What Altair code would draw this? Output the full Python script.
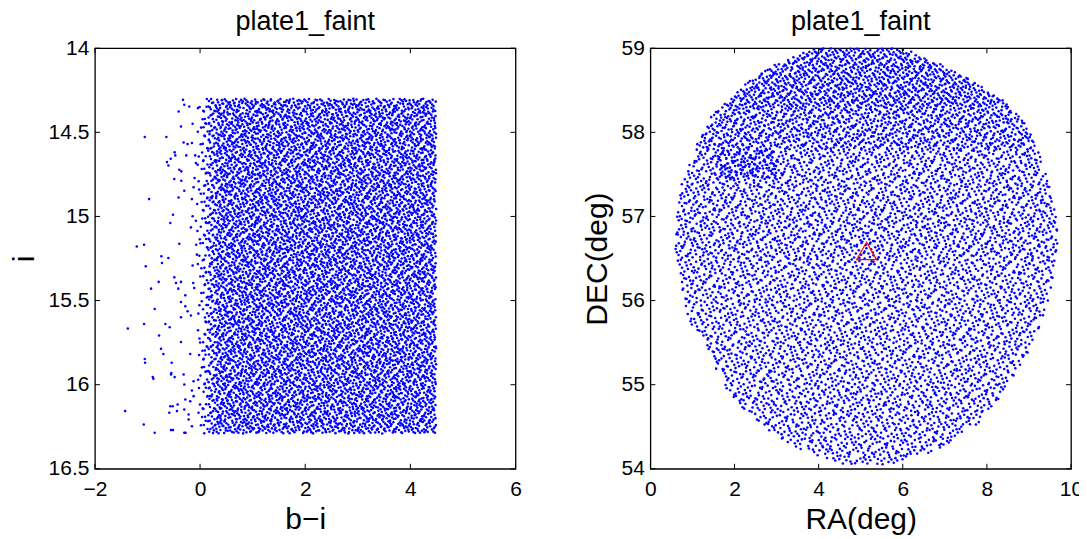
import numpy as np
import pandas as pd
import altair as alt

FONT = "Liberation Sans"
BLUE = "#0000ff"
W, H = 421, 421

# ---------------- left panel (colour-magnitude) ----------------
left_title = ["plate1_faint"]
left_xlabel = "b\u2212i"
left_ylabel = "i"
left_xticks = [-2, 0, 2, 4, 6]
left_yticks = [14, 14.5, 15, 15.5, 16, 16.5]

# isolated stars left of the main block
sparse_bi = [-0.325, -0.300, -0.205, -0.408, -0.041, -0.363, -0.142, -1.052, -0.641, -0.313,
             -0.237, -0.155, -0.483, -0.471, -0.559, -0.629, -0.603, -0.262, -0.092, -0.079,
             -0.395, -0.357, -0.490, -0.357, -0.104, -0.300, -0.123, -0.408, -0.970, -0.155,
             -0.054, -0.515, -0.566, -0.142, -0.079, -0.174, -1.065, -0.395, -0.073, -0.736,
             -0.603, -0.724, -1.033, -0.142, -0.060, -0.490, -0.787, -0.458, -0.363, -0.130,
             -0.932, -0.414, -0.111, -0.281, -0.863, -0.363, -0.281, -0.237, -0.174, -1.065,
             -0.660, -0.578, -0.363, -0.780, -0.363, -0.743, -0.698, -0.187, -1.052, -1.046,
             -0.540, -0.547, -0.553, -0.483, -0.313, -0.900, -0.888, -0.123, -0.300, -0.155,
             -0.566, -0.521, -0.427, -0.585, -0.439, -0.281, -0.187, -0.123, -0.300, -0.218,
             -0.553, -0.515, -0.300, -0.275, -0.218, -0.155, -1.071, -0.863, -1.425, -1.204,
             -1.374]
sparse_i = [14.307, 14.336, 14.346, 14.376, 14.356, 14.465, 14.449, 14.528, 14.528, 14.560,
            14.570, 14.564, 14.619, 14.637, 14.657, 14.677, 14.697, 14.637, 14.637, 14.683,
            14.722, 14.732, 14.778, 14.788, 14.772, 14.847, 14.827, 14.887, 14.897, 14.897,
            14.926, 14.990, 15.039, 14.999, 15.025, 15.065, 15.168, 15.162, 15.168, 15.237,
            15.247, 15.277, 15.296, 15.292, 15.227, 15.362, 15.389, 15.395, 15.389, 15.395,
            15.429, 15.429, 15.425, 15.469, 15.550, 15.508, 15.534, 15.564, 15.589, 15.639,
            15.639, 15.659, 15.599, 15.708, 15.746, 15.787, 15.817, 15.817, 15.847, 15.870,
            15.870, 15.930, 15.940, 15.955, 15.940, 15.955, 15.965, 15.979, 15.999, 16.035,
            16.128, 16.128, 16.118, 16.167, 16.157, 16.088, 16.098, 16.068, 16.148, 16.177,
            16.270, 16.270, 16.286, 16.286, 16.207, 16.247, 16.237, 16.286, 16.157, 15.178,
            15.666]

# main block: extents and relative density per colour band
block_bi_edges = [-0.05, 0.05, 0.15, 0.30, 4.49]
block_bi_density = [0.20, 0.45, 0.75, 1.00]
block_i_range = [14.30, 16.29]
block_count = 8500

# ---------------- right panel (sky positions) ----------------
right_title = ["plate1_faint"]
right_xlabel = "RA(deg)"
right_ylabel = "DEC(deg)"
right_xticks = [0, 2, 4, 6, 8, 10]
right_yticks = [54, 55, 56, 57, 58, 59]

# outline of the field: RA extent at each DEC row
ring_dec = [54.05, 54.2, 54.4, 54.6, 54.8, 55.0, 55.2, 55.4, 55.6, 55.8, 56.0, 56.2, 56.4,
            56.6, 56.8, 57.0, 57.2, 57.4, 57.6, 57.8, 58.0, 58.2, 58.4, 58.6, 58.8, 59.0]
ring_ra_min = [4.6, 3.7, 2.95, 2.45, 2.05, 1.75, 1.55, 1.4, 1.1, 0.9, 0.8, 0.72, 0.65,
               0.6, 0.58, 0.6, 0.65, 0.75, 0.9, 1.05, 1.25, 1.45, 1.9, 2.3, 2.95, 3.9]
ring_ra_max = [5.7, 6.7, 7.45, 7.95, 8.25, 8.5, 8.75, 9.0, 9.18, 9.33, 9.45, 9.55, 9.63,
               9.68, 9.68, 9.64, 9.58, 9.5, 9.35, 9.22, 9.05, 8.75, 8.35, 7.75, 6.95, 6.0]
# relative star density in DEC bands and in the small clump
dec_band_edges = [54.05, 55.0, 56.5, 57.8, 58.3, 59.0]
dec_band_density = [0.50, 0.50, 0.55, 0.75, 0.90]
clump_ra = [1.6, 3.0]
clump_dec = [57.45, 57.80]
clump_density = 1.0
field_count = 7800

marker_ra = [5.14]
marker_dec = [56.59]


# The thousands of individual dots cannot be read one by one; the cloud is drawn
# as an even, deterministic (Halton) fill of the extents and densities above.
def halton(n, base, start):
    idx = np.arange(start, start + n)
    r = np.zeros(n)
    f = 1.0
    while np.any(idx > 0):
        f /= base
        r += f * (idx % base)
        idx = idx // base
    return r


def fill_box(n, x0, x1, y0, y1, start):
    return (x0 + halton(n, 2, start) * (x1 - x0), y0 + halton(n, 3, start) * (y1 - y0))


# left block, band by band
edges = np.array(block_bi_edges)
wts = np.array(block_bi_density) * np.diff(edges)
counts = np.round(block_count * wts / wts.sum()).astype(int)
lx, ly = [np.array(sparse_bi)], [np.array(sparse_i)]
for k, n in enumerate(counts):
    px, py = fill_box(n, edges[k], edges[k + 1], block_i_range[0], block_i_range[1], 37 + 7919 * k)
    lx.append(px)
    ly.append(py)
left_df = pd.DataFrame({"x": np.concatenate(lx), "y": np.concatenate(ly)})

# right field, band by band inside the outline
RA0, RA1 = 0.4, 9.9
fine = np.linspace(ring_dec[0], ring_dec[-1], 1001)
fine_w = np.interp(fine, ring_dec, ring_ra_max) - np.interp(fine, ring_dec, ring_ra_min)
band_area = []
for k in range(len(dec_band_density)):
    m = (fine >= dec_band_edges[k]) & (fine <= dec_band_edges[k + 1])
    band_area.append(np.trapezoid(fine_w[m], fine[m]))
clump_area = (clump_ra[1] - clump_ra[0]) * (clump_dec[1] - clump_dec[0])
clump_base = dec_band_density[2]
total = np.dot(dec_band_density, band_area) + (clump_density - clump_base) * clump_area
c = field_count / total
rx, ry = [], []
for k, d in enumerate(dec_band_density):
    d0, d1 = dec_band_edges[k], dec_band_edges[k + 1]
    n = int(round(c * d * (RA1 - RA0) * (d1 - d0)))
    px, py = fill_box(n, RA0, RA1, d0, d1, 53 + 15013 * k)
    ok = (px >= np.interp(py, ring_dec, ring_ra_min)) & (px <= np.interp(py, ring_dec, ring_ra_max))
    rx.append(px[ok])
    ry.append(py[ok])
n = int(round(c * (clump_density - clump_base) * clump_area))
px, py = fill_box(n, clump_ra[0], clump_ra[1], clump_dec[0], clump_dec[1], 101)
rx.append(px)
ry.append(py)
right_df = pd.DataFrame({"x": np.concatenate(rx), "y": np.concatenate(ry)})
marker_df = pd.DataFrame({"x": marker_ra, "y": marker_dec})


def panel(df, title, xlabel, ylabel, xticks, yticks, xdom, ydom, yrev, extra=None):
    xs = alt.Scale(domain=xdom, nice=False, zero=False)
    ys = alt.Scale(domain=ydom, nice=False, zero=False, reverse=yrev)
    ax = dict(ticks=False, tickSize=0, domain=False, grid=False, labelFont=FONT, labelFontSize=21,
              labelColor="black", labelFlush=False, labelOverlap=False, format="~r",
              titleFont=FONT, titleFontSize=30, titleFontWeight="normal", titleColor="black")
    xaxis = alt.Axis(values=xticks, title=xlabel, labelPadding=10, titlePadding=4.5, **ax)
    yaxis = alt.Axis(values=yticks, title=ylabel, labelPadding=6, titlePadding=9, **ax)
    pts = alt.Chart(df).mark_circle(size=6.5, color=BLUE, opacity=1).encode(
        x=alt.X("x:Q", scale=xs, axis=xaxis),
        y=alt.Y("y:Q", scale=ys, axis=yaxis),
    )
    xt = pd.DataFrame({"x": xticks})
    yt = pd.DataFrame({"y": yticks})
    tl = 5
    tick_layers = [
        alt.Chart(xt).mark_rule(color="black", strokeWidth=1).encode(
            x=alt.X("x:Q", scale=xs, axis=xaxis), y=alt.value(H), y2=alt.value(H - tl)),
        alt.Chart(xt).mark_rule(color="black", strokeWidth=1).encode(
            x=alt.X("x:Q", scale=xs, axis=xaxis), y=alt.value(0), y2=alt.value(tl)),
        alt.Chart(yt).mark_rule(color="black", strokeWidth=1).encode(
            y=alt.Y("y:Q", scale=ys, axis=yaxis), x=alt.value(0), x2=alt.value(tl)),
        alt.Chart(yt).mark_rule(color="black", strokeWidth=1).encode(
            y=alt.Y("y:Q", scale=ys, axis=yaxis), x=alt.value(W), x2=alt.value(W - tl)),
    ]
    title_layer = alt.Chart(pd.DataFrame({"t": title})).mark_text(
        font=FONT, fontSize=27, color="black", align="center", baseline="alphabetic").encode(
        text="t:N", x=alt.value(W / 2), y=alt.value(-18.7))
    layers = [pts] + tick_layers + [title_layer]
    if extra is not None:
        layers.append(extra(xs, ys, xaxis, yaxis))
    return alt.layer(*layers).properties(width=W, height=H)


def tri(xs, ys, xaxis, yaxis):
    return alt.Chart(marker_df).mark_point(shape="triangle-up", size=400, filled=False,
                                           color="#ff0000", strokeWidth=1.2, opacity=1).encode(
        x=alt.X("x:Q", scale=xs, axis=xaxis), y=alt.Y("y:Q", scale=ys, axis=yaxis))


left = panel(left_df, left_title, left_xlabel, left_ylabel, left_xticks, left_yticks,
             [-2, 6], [14, 16.5], True)
right = panel(right_df, right_title, right_xlabel, right_ylabel, right_xticks, right_yticks,
              [0, 10], [54, 59], False, extra=tri)

chart = alt.hconcat(left, right, spacing=58).properties(
    padding={"left": 0, "top": -2, "right": -5, "bottom": 0}
).configure_view(stroke="#000000", strokeWidth=1.3)

chart.save("out.html", embed_options={"renderer": "svg", "actions": False})
